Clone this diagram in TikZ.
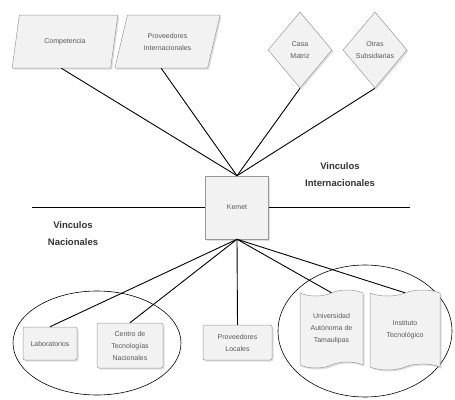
\documentclass[tikz,border=0pt]{standalone}
\usepackage{fontspec}
\setmainfont{Liberation Sans}
\usetikzlibrary{shapes.geometric,shapes.symbols,shadows}

\begin{document}
\begin{tikzpicture}[x=1pt,y=-1pt,line width=0.9pt]
    \tikzstyle{entity}=[draw=black!40,line width=0.5pt,fill=black!5,text=black!65,align=center,inner sep=1pt,
        font=\fontsize{7}{12}\selectfont,drop shadow={opacity=0.25,shadow xshift=1.5pt,shadow yshift=-1.5pt}]
    \tikzstyle{foreign}=[entity,trapezium,trapezium left angle=68,trapezium right angle=112,
        trapezium stretches=true,minimum width=106pt,minimum height=53pt]
    \tikzstyle{sister}=[entity,diamond,minimum width=64pt,minimum height=76pt]
    \tikzstyle{local}=[entity,rectangle,rounded corners=2pt]
    \tikzstyle{school}=[entity,tape,tape bend height=6pt]
    \tikzstyle{group}=[draw,ellipse,line width=0.6pt]
    \tikzstyle{annot}=[font=\fontsize{9.5}{17}\selectfont\bfseries,text=black!80,align=center]

    \useasboundingbox (0,0) rectangle (455,399);

    % Draw the groups of local partners
    \node[group,minimum width=168pt,minimum height=104pt] (nacional) at (97,343) {};
    \node[group,minimum width=174pt,minimum height=132pt] (regional) at (365,331) {};

    % Draw the international partners
    \node[foreign] (competencia) at (65,41.5) {Competencia};
    \node[foreign] (prov int) at (167.5,41.5) {Proveedores\\Internacionales};
    \node[sister] (casa matriz) at (300,50) {Casa\\Matriz};
    \node[sister] (subsidiarias) at (375,50) {Otras\\Subsidiarias};

    % Draw the company
    \node[entity,minimum size=63pt] (kemet) at (237,207.5) {Kemet};

    % Draw the national partners
    \node[local,minimum width=54pt,minimum height=33pt] (laboratorios) at (50,343.5) {Laboratorios};
    \node[local,minimum width=66pt,minimum height=45pt] (centro) at (130,345.5) {Centro de\\Tecnologías\\Nacionales};
    \node[local,minimum width=69pt,minimum height=35pt] (prov locales) at (237.5,342.5) {Proveedores\\Locales};
    \node[school,minimum width=63pt,minimum height=78pt] (uat) at (331.5,329) {Universidad\\Autónoma de\\Tamaulipas};
    \node[school,minimum width=70pt,minimum height=80pt] (instituto) at (405,330) {Instituto\\Tecnológico};

    % Split line between the two kinds of links
    \coordinate (west end) at (32,207.5);
    \coordinate (east end) at (410,207.5);
    \draw (west end) -- (kemet.west) (kemet.east) -- (east end);

    % Connect the international partners with the company
    \foreach \source in {competencia,prov int}
        \draw (\source.bottom side) -- (kemet.north);
    \foreach \source in {casa matriz,subsidiarias}
        \draw (\source.south) -- (kemet.north);

    % Connect the company with the national partners
    \foreach \dest in {laboratorios,centro,prov locales,uat,instituto}
        \draw (kemet.south) -- (\dest.north);

    % Annotate the links
    \node[annot] (intl) at (340,174.5) {Vinculos\\Internacionales};
    \node[annot] (natl) at (73,233.5) {Vinculos\\Nacionales};
\end{tikzpicture}
\end{document}
